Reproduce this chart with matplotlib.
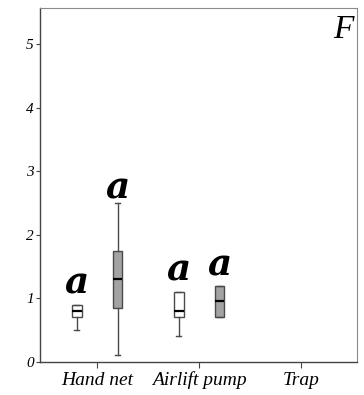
import matplotlib
matplotlib.use("Agg")
import matplotlib.pyplot as plt

SERIF = ["Liberation Serif", "DejaVu Serif"]

# Categories and box statistics (white = first sample, grey = second sample)
methods = ["Hand net", "Airlift pump", "Trap"]
white_low = [0.5, 0.4, None]
white_q1 = [0.7, 0.7, None]
white_med = [0.8, 0.8, None]
white_q3 = [0.9, 1.1, None]
white_high = [0.9, 1.1, None]

grey_low = [0.1, 0.7, None]
grey_q1 = [0.85, 0.7, None]
grey_med = [1.3, 0.95, None]
grey_q3 = [1.75, 1.2, None]
grey_high = [2.5, 1.2, None]

# significance letters and the height they sit at
letters_white = ["a", "a", None]
letters_white_y = [1.07, 1.28, None]
letters_grey = ["a", "a", None]
letters_grey_y = [2.57, 1.36, None]

fig = plt.figure(figsize=(3.64, 3.95), dpi=100)
ax = fig.add_axes([0.11, 0.084, 0.871, 0.896])

offset = 0.2
width = 0.095


def make_stats(low, q1, med, q3, high):
    out, pos = [], []
    for i, (a, b, c, d, e) in enumerate(zip(low, q1, med, q3, high)):
        if a is None:
            continue
        out.append(dict(whislo=a, q1=b, med=c, q3=d, whishi=e, fliers=[]))
        pos.append(i + 1)
    return out, pos


groups = [
    (white_low, white_q1, white_med, white_q3, white_high, -1, "white",
     letters_white, letters_white_y),
    (grey_low, grey_q1, grey_med, grey_q3, grey_high, 1, "#a3a3a3",
     letters_grey, letters_grey_y),
]
for low, q1, med, q3, high, sign, face, letters, letters_y in groups:
    stats, pos = make_stats(low, q1, med, q3, high)
    pos = [p + sign * offset for p in pos]
    ax.bxp(stats, positions=pos, widths=width, patch_artist=True,
           showcaps=True, manage_ticks=False,
           boxprops=dict(facecolor=face, edgecolor="#4a4a4a", linewidth=1.0),
           medianprops=dict(color="black", linewidth=1.6),
           whiskerprops=dict(color="#4a4a4a", linewidth=1.0),
           capprops=dict(color="#4a4a4a", linewidth=1.0))
    for i, (lab, ly) in enumerate(zip(letters, letters_y)):
        if lab is None:
            continue
        ax.text(i + 1 + sign * offset, ly, lab, ha="center", va="baseline",
                fontsize=27, fontweight="bold", fontstyle="italic",
                family=["DejaVu Serif"])

ax.set_xlim(0.44, 3.55)
ax.set_ylim(0, 5.57)
ax.set_xticks([1, 2, 3])
ax.set_xticklabels(methods, fontsize=14, fontstyle="italic", family=SERIF)
ax.set_yticks([0, 1, 2, 3, 4, 5])
ax.set_yticklabels(["0", "1", "2", "3", "4", "5"], fontsize=11,
                   fontstyle="italic", family=SERIF)
ax.tick_params(axis="y", length=3, width=0.8, pad=1.5, color="#444444")
ax.tick_params(axis="x", length=4, width=0.8, pad=3, color="#444444")

for side in ["left", "bottom"]:
    ax.spines[side].set_color("#444444")
    ax.spines[side].set_linewidth(1.0)
for side in ["top", "right"]:
    ax.spines[side].set_color("#8a8a8a")
    ax.spines[side].set_linewidth(0.8)

ax.text(0.99, 0.982, "F", transform=ax.transAxes, ha="right", va="top",
        fontsize=24, fontstyle="italic", family=SERIF)

fig.savefig("out.png", dpi=100)
